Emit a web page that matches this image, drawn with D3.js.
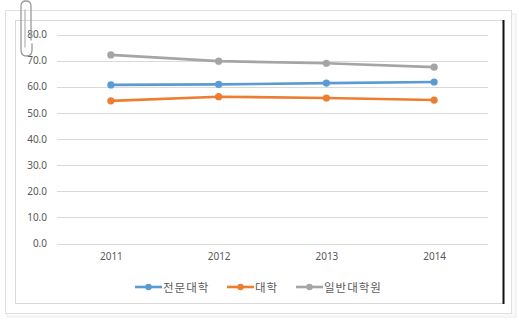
<!DOCTYPE html>
<html>
<head>
<meta charset="utf-8">
<script src="https://cdn.jsdelivr.net/npm/d3@7"></script>
<style>
  html, body { margin: 0; padding: 0; background: #fff; }
  svg { display: block; }
  text { font-family: "Noto Sans", "Noto Sans CJK KR", sans-serif; fill: #595959; }
</style>
</head>
<body>
<svg id="chart" width="519" height="324"></svg>
<script>
// Years on the x axis
const years = ["2011", "2012", "2013", "2014"];
// Series names (legend order)
const seriesNames = ["전문대학", "대학", "일반대학원"];
// Values per series, one per year
const juniorCollege = [60.7, 60.9, 61.4, 61.8];
const university = [54.6, 56.2, 55.7, 54.9];
const graduateSchool = [72.2, 69.8, 69.0, 67.5];
// Y axis ticks
const yTicks = [0, 10, 20, 30, 40, 50, 60, 70, 80];

const seriesValues = [juniorCollege, university, graduateSchool];
const colors = ["#5B9BD5", "#ED7D31", "#A5A5A5"];

const svg = d3.select("#chart");

// Stacked paper background with soft edges
svg.append("rect").attr("x", 7).attr("y", 14).attr("width", 509).attr("height", 303)
  .attr("fill", "#fafafa").attr("stroke", "#ececec").attr("stroke-width", 1);
svg.append("rect").attr("x", 5.5).attr("y", 10.5).attr("width", 506).attr("height", 303)
  .attr("fill", "#fff").attr("stroke", "#e0e0e0").attr("stroke-width", 1);

// Chart frame
svg.append("rect").attr("x", 15.5).attr("y", 20.5).attr("width", 488).attr("height", 283)
  .attr("fill", "#fff").attr("stroke", "#d9d9d9").attr("stroke-width", 1);
svg.append("line").attr("x1", 503.5).attr("x2", 503.5).attr("y1", 20).attr("y2", 304)
  .attr("stroke", "#111").attr("stroke-width", 2);

const x = d3.scalePoint().domain(years).range([57, 488]).padding(0.5);
const y = d3.scaleLinear().domain([0, 80]).range([243.5, 34.5]);

// Gridlines
svg.append("g").selectAll("line").data(yTicks).join("line")
  .attr("x1", 57).attr("x2", 488)
  .attr("y1", d => Math.round(y(d)) + 0.5).attr("y2", d => Math.round(y(d)) + 0.5)
  .attr("stroke", "#d9d9d9").attr("stroke-width", 1);

// Y axis labels
const yAxis = d3.axisLeft(y).tickValues(yTicks).tickFormat(d3.format(".1f")).tickSize(0).tickPadding(0);
const gy = svg.append("g").attr("transform", "translate(47,0)").call(yAxis);
gy.select(".domain").remove();
gy.selectAll("text").attr("font-size", 10).style("fill", "#595959")
  .style("font-family", "'Noto Sans', sans-serif");

// X axis labels
const xAxis = d3.axisBottom(x).tickSize(0).tickPadding(0);
const gx = svg.append("g").attr("transform", "translate(0,253)").call(xAxis);
gx.select(".domain").remove();
gx.selectAll("text").attr("font-size", 10).style("fill", "#595959")
  .style("font-family", "'Noto Sans', sans-serif");

// Lines and markers
const line = d3.line().x((d, i) => x(years[i])).y(d => y(d));
seriesValues.forEach((vals, s) => {
  const g = svg.append("g");
  g.append("path").datum(vals).attr("d", line)
    .attr("fill", "none").attr("stroke", colors[s]).attr("stroke-width", 2.6)
    .attr("stroke-linecap", "round");
  g.selectAll("circle").data(vals).join("circle")
    .attr("cx", (d, i) => x(years[i])).attr("cy", d => y(d)).attr("r", 3.6)
    .attr("fill", colors[s]);
});

// Legend
const legendX = [135, 227, 296];
const legend = svg.append("g");
seriesNames.forEach((name, s) => {
  const lx = legendX[s];
  legend.append("line").attr("x1", lx).attr("x2", lx + 27).attr("y1", 287).attr("y2", 287)
    .attr("stroke", colors[s]).attr("stroke-width", 2.6);
  legend.append("circle").attr("cx", lx + 13.5).attr("cy", 287).attr("r", 3.2).attr("fill", colors[s]);
  legend.append("text").attr("x", lx + 28).attr("y", 291.5)
    .attr("font-size", 11.5).attr("letter-spacing", 1)
    .style("font-family", "'Noto Sans CJK KR', sans-serif")
    .text(name);
});

// Paper clip at the top-left corner
const clip = svg.append("g").attr("fill", "none").attr("stroke", "#9a9a9a").attr("stroke-width", 1.3)
  .attr("stroke-linecap", "round");
clip.append("path").attr("d",
  "M31,40 L31,6 Q31,1 26,1 Q21,1 21,6 L21,50 Q21,56 26.5,56 Q32,56 32,50 L32,44");
clip.append("path").attr("d", "M25,10 L25,47").attr("stroke", "#b8b8b8");
</script>
</body>
</html>
